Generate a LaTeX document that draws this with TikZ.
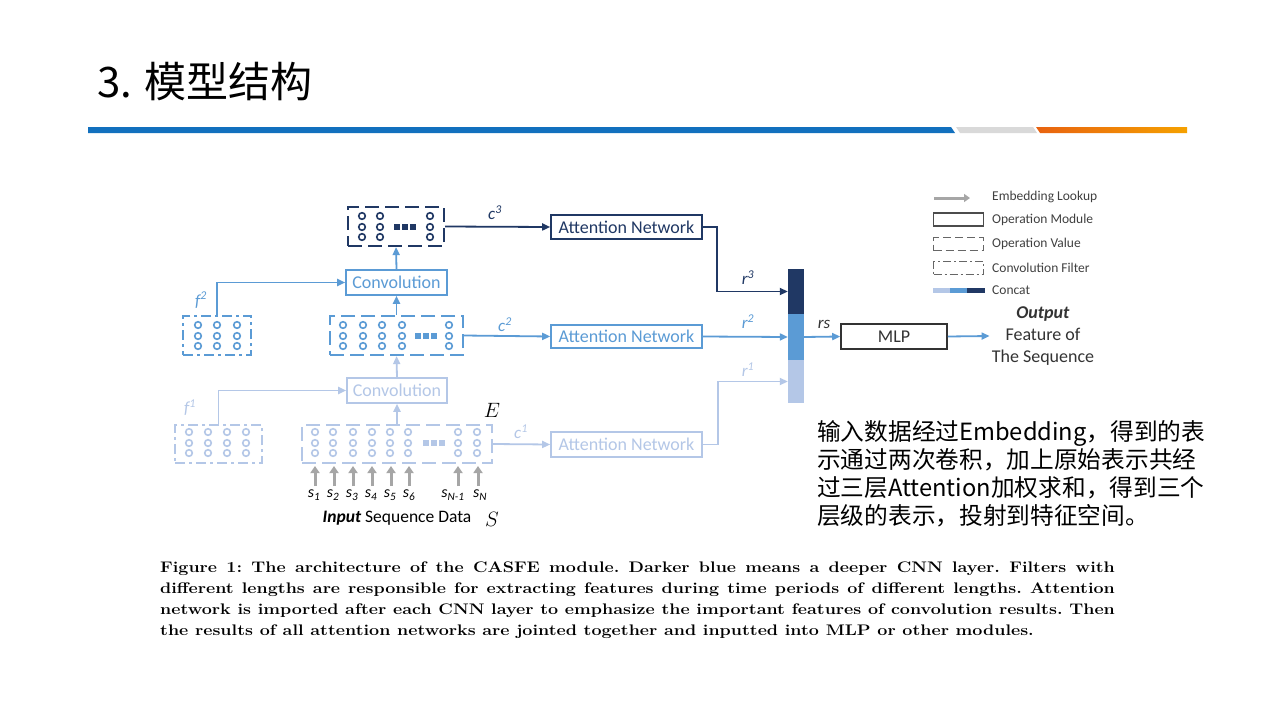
\documentclass[tikz,border=0pt]{standalone}
\usepackage{fontspec}
\usepackage{graphicx}
\newfontfamily\calfont{Carlito}
\newfontfamily\cjk{Noto Sans CJK SC}
\usetikzlibrary{arrows.meta}
\definecolor{dkc}{RGB}{32,56,100}
\definecolor{mdc}{RGB}{91,155,213}
\definecolor{ltc}{RGB}{180,199,231}
\definecolor{grc}{RGB}{166,166,166}
\definecolor{barblue}{RGB}{18,112,190}
\definecolor{bargray}{RGB}{217,217,217}
\definecolor{orA}{RGB}{232,98,16}
\definecolor{orB}{RGB}{245,161,0}
\tikzset{
  dfont/.style={font=\calfont\fontsize{18}{21}\selectfont},
  modbox/.style={draw, line width=1.6pt, inner sep=0pt, dfont},
  valbox/.style={draw, line width=2.2pt, dash pattern=on 14pt off 6pt, inner sep=0pt},
  filtbox/.style={draw, line width=2.2pt, dash pattern=on 10pt off 4pt on 3pt off 4pt, inner sep=0pt},
  arr/.style={-{Triangle[length=8pt,width=7pt]}, line width=1.8pt},
  emb/.style={-{Triangle[length=7pt,width=9pt]}, line width=3pt, grc},
  lbl/.style={font=\calfont\itshape\fontsize{17}{19}\selectfont, inner sep=0pt},
  leg/.style={font=\calfont\fontsize{13.5}{15}\selectfont, anchor=west, inner sep=0pt, text=black!75},
  cell/.style={line width=1.6pt},
}
\begin{document}
\begin{tikzpicture}[x=1pt,y=-1pt]
\useasboundingbox (0,0) rectangle (1280,720);
\fill[white] (0,0) rectangle (1280,720);

% ---- title and bar
\node[anchor=west, inner sep=0pt, font=\cjk\fontsize{42}{46}\selectfont] (title) at (97,82) {3. 模型结构};
\fill[barblue] (88,127) -- (951,127) -- (955,133) -- (88,133) -- cycle;
\fill[bargray] (956,127) -- (1033,127) -- (1037,133) -- (960,133) -- cycle;
\shade[left color=orA, right color=orB] (1036,127) -- (1187,127) -- (1187,133) -- (1040,133) -- cycle;

% ---- level 3 (dark)
\node[valbox, dkc, minimum width=96pt, minimum height=39pt] (v3) at (396,226.5) {};
\foreach \x in {362,380,430} \foreach \y in {216,227,237} \draw[cell,dkc] (\x,\y) circle (3.3pt);
\foreach \x in {397,405,413} \fill[dkc] (\x,227) ++(-2.7,-2.7) rectangle ++(5.4,5.4);
\node[modbox, dkc, minimum width=151pt, minimum height=24pt] (an3) at (626.5,227) {Attention Network};
\node[lbl, dkc] (c3) at (495,213) {c\textsuperscript{3}};

% ---- level 2 (mid)
\node[modbox, mdc, minimum width=101pt, minimum height=25pt] (conv2) at (396.5,282.5) {Convolution};
\node[filtbox, mdc, minimum width=68pt, minimum height=39pt] (f2box) at (217,335.5) {};
\foreach \x in {198,217,237} \foreach \y in {325,336,346} \draw[cell,mdc] (\x,\y) circle (3.3pt);
\node[lbl, mdc] (f2) at (201,300) {f\textsuperscript{2}};
\node[valbox, mdc, minimum width=133pt, minimum height=39pt] (v2) at (396.5,335.5) {};
\foreach \x in {343,363,382,402,449} \foreach \y in {325,336,346} \draw[cell,mdc] (\x,\y) circle (3.3pt);
\foreach \x in {418,426,434} \fill[mdc] (\x,336) ++(-2.7,-2.7) rectangle ++(5.4,5.4);
\node[modbox, mdc, minimum width=151pt, minimum height=23pt] (an2) at (626.5,336.5) {Attention Network};
\node[lbl, mdc] (c2) at (505,325) {c\textsuperscript{2}};

% ---- level 1 (light)
\node[modbox, ltc, minimum width=100pt, minimum height=25pt] (conv1) at (397,390.5) {Convolution};
\node[filtbox, ltc, minimum width=87pt, minimum height=38pt] (f1box) at (218.5,444) {};
\foreach \x in {189,208,227,246} \foreach \y in {432,443,453} \draw[cell,ltc] (\x,\y) circle (3.3pt);
\node[lbl, ltc] (f1) at (190,408) {f\textsuperscript{1}};
\node[valbox, ltc, minimum width=190pt, minimum height=38pt] (v1) at (397,444) {};
\foreach \x in {315,333,353,372,390,408,458,477} \foreach \y in {432,443,453} \draw[cell,ltc] (\x,\y) circle (3.3pt);
\foreach \x in {426,434,442} \fill[ltc] (\x,443) ++(-2.7,-2.7) rectangle ++(5.4,5.4);
\node[modbox, ltc, minimum width=151pt, minimum height=25pt] (an1) at (626.5,444.5) {Attention Network};
\node[lbl, ltc] (c1) at (521,432) {c\textsuperscript{1}};

\node[inner sep=0pt, font=\fontsize{21}{23}\selectfont] (E) at (492,410) {$E$};
\node[inner sep=0pt, font=\fontsize{21}{23}\selectfont] (S) at (492,519) {$S$};

% ---- input sequence
\foreach \x/\lx/\n/\t in {315/314/s1/1,334/333/s2/2,353/352/s3/3,372/371/s4/4,391/390/s5/5,409/409/s6/6,458/453/sn1/{N-1},478/480/sn/N} {
  \node[lbl, font=\calfont\itshape\fontsize{16}{18}\selectfont] (\n) at (\lx,495) {s\textsubscript{\t}};
  \coordinate (\n top) at (\x,466);
  \draw[emb] (\x,486) -- (\n top);
}
\node[inner sep=0pt, font=\calfont\fontsize{17.5}{19}\selectfont] (inp) at (397,518) {\textbf{\textit{Input}} Sequence Data};

% ---- concat bar
\node[fill=dkc, minimum width=16pt, minimum height=45pt, inner sep=0pt] (bar3) at (796,291.5) {};
\node[fill=mdc, minimum width=16pt, minimum height=46pt, inner sep=0pt] (bar2) at (796,337) {};
\node[fill=ltc, minimum width=16pt, minimum height=43pt, inner sep=0pt] (bar1) at (796,381.5) {};
\node[lbl, dkc] (r3) at (748,278) {r\textsuperscript{3}};
\node[lbl, mdc] (r2) at (748,322) {r\textsuperscript{2}};
\node[lbl, ltc] (r1) at (748,370) {r\textsuperscript{1}};
\node[lbl, black!80] (rs) at (824,324) {rs};

\node[modbox, black!80, minimum width=106pt, minimum height=25pt] (mlp) at (894,336.5) {MLP};
\node[align=center, inner sep=2pt, font=\calfont\fontsize{18}{22}\selectfont, text=black!80] (out) at (1043,336) {\textbf{\textit{Output}}\\Feature of\\The Sequence};

% ---- connectors
\draw[arr, dkc] (v3.east) -- (an3.west);
\draw[arr, dkc] (an3.east) -- ++(14,0) |- (bar3.west);
\draw[arr, mdc] (conv2.north) -- (v3.south);
\draw[arr, mdc] (f2box.north) |- (conv2.west);
\draw[arr, mdc] (v2.north) -- (conv2.south);
\draw[arr, mdc] (v2.east) -- (an2.west);
\draw[arr, mdc] (an2.east) -- (bar2.west);
\draw[arr, ltc] (conv1.north) -- (v2.south);
\draw[arr, ltc] (f1box.north) |- (conv1.west);
\draw[arr, ltc] (v1.north) -- (conv1.south);
\draw[arr, ltc] (v1.east) -- (an1.west);
\draw[arr, ltc] (an1.east) -- ++(15,0) |- (bar1.west);
\draw[arr, mdc] (bar2.east) -- (mlp.west);
\draw[arr, mdc] (mlp.east) -- (out.west);

% ---- legend
\coordinate (lgA) at (934,198);
\coordinate (lgB) at (970,198);
\draw[-{Triangle[length=6pt,width=8pt]}, line width=3pt, grc] (lgA) -- (lgB);
\node[leg] (l1) at (992,197) {Embedding Lookup};
\node[draw, line width=1.3pt, black!70, minimum width=50pt, minimum height=13pt, inner sep=0pt] (lr2) at (958.5,219.5) {};
\node[leg] (l2) at (992,220) {Operation Module};
\node[draw, line width=1.3pt, black!60, dash pattern=on 8pt off 4pt, minimum width=50pt, minimum height=13pt, inner sep=0pt] (lr3) at (958.5,244) {};
\node[leg] (l3) at (992,244) {Operation Value};
\node[draw, line width=1.3pt, black!60, dash pattern=on 8pt off 3pt on 2pt off 3pt, minimum width=50pt, minimum height=13pt, inner sep=0pt] (lr4) at (958.5,268) {};
\node[leg] (l4) at (992,268) {Convolution Filter};
\fill[ltc] (933,288) rectangle (950,293);
\fill[mdc] (950,288) rectangle (967,293);
\fill[dkc] (967,288) rectangle (985,293);
\node[leg] (l5) at (992,290) {Concat};

% ---- chinese note
\node[anchor=north west, inner sep=0pt, align=left, font=\cjk\fontsize{23.7}{28}\selectfont] (note) at (817,420)
 {输入数据经过Embedding，得到的表\\示通过两次卷积，加上原始表示共经\\过三层Attention加权求和，得到三个\\层级的表示，投射到特征空间。};

% ---- caption
\node[anchor=north west, inner sep=0pt] (cap) at (160,558) {\scalebox{1.17}[1]{\fontsize{15.3}{21}\selectfont\bfseries\frenchspacing
 \begin{tabular}{@{}l@{}}
 \makebox[816pt][s]{Figure 1: The architecture of the CASFE module. Darker blue means a deeper CNN layer. Filters with}\\
 \makebox[816pt][s]{different lengths are responsible for extracting features during time periods of different lengths. Attention}\\
 \makebox[816pt][s]{network is imported after each CNN layer to emphasize the important features of convolution results. Then}\\
 the results of all attention networks are jointed together and inputted into MLP or other modules.
 \end{tabular}}};
\end{tikzpicture}
\end{document}
